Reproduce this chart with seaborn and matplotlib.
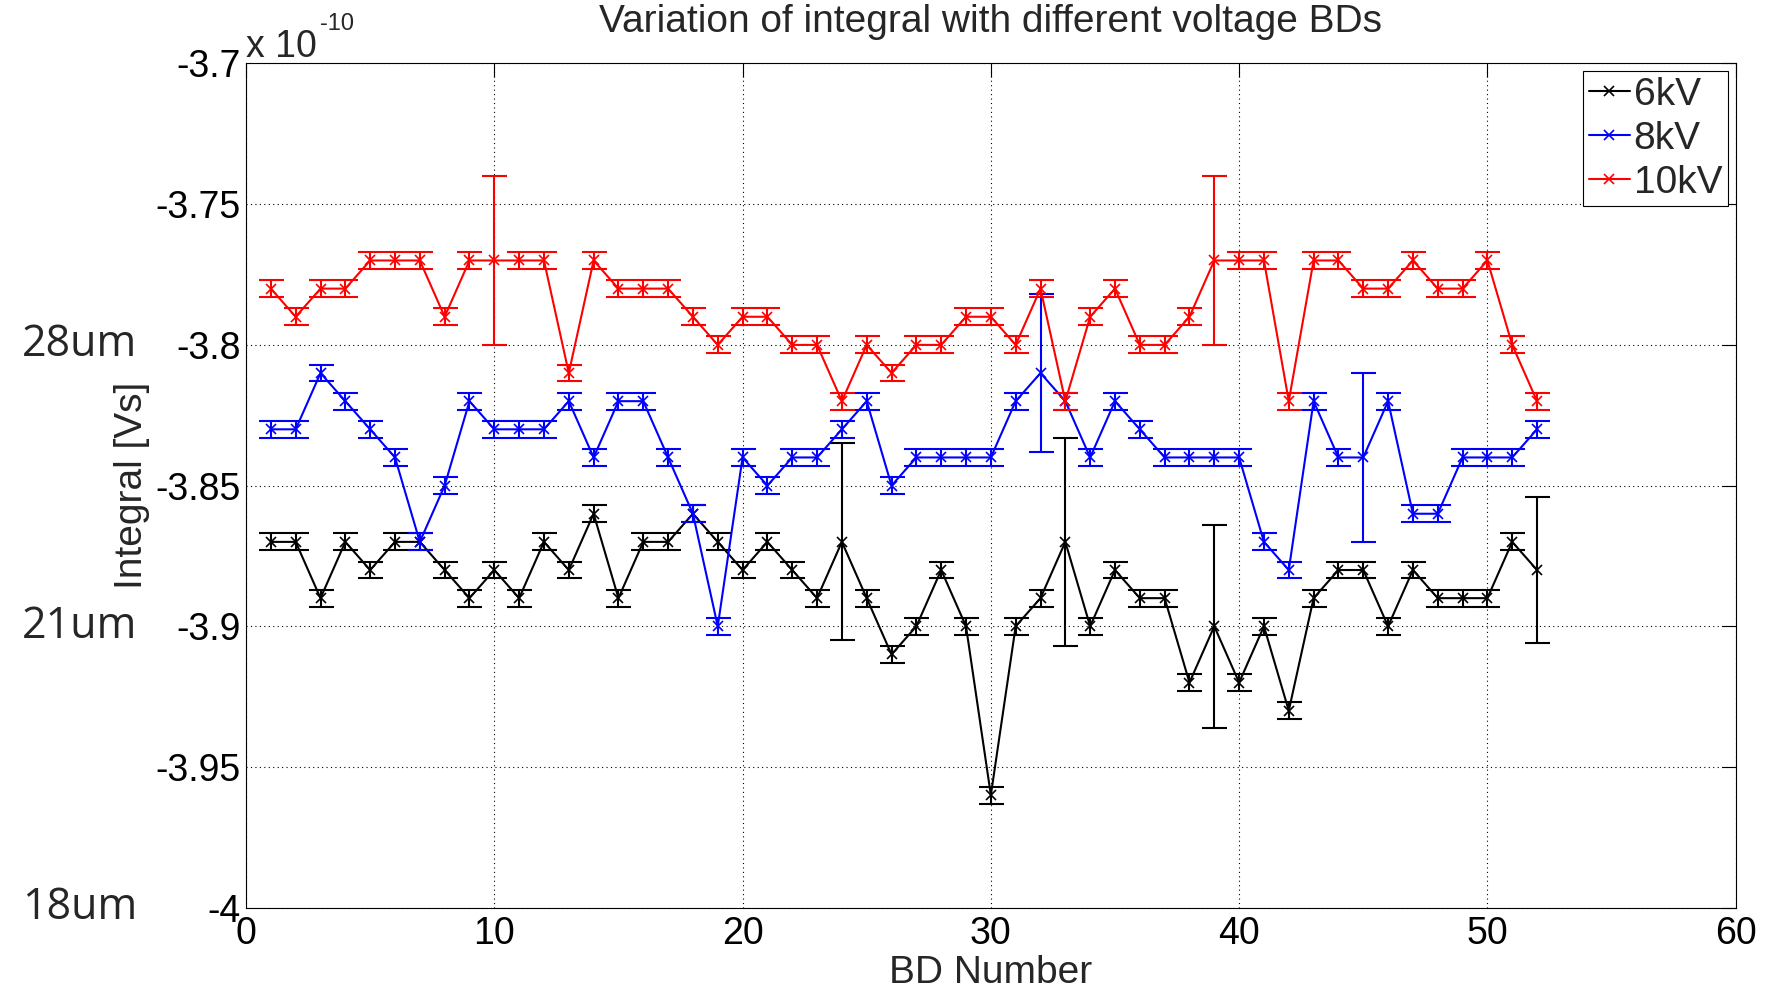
import numpy as np
import pandas as pd
import seaborn as sns
import matplotlib.pyplot as plt
from matplotlib.ticker import MultipleLocator, FuncFormatter
from matplotlib.transforms import blended_transform_factory

# integral values in units of 1e-10 Vs, BD number 1..52
bd = list(range(1, 53))

v6kv = [-3.87, -3.87, -3.89, -3.87, -3.88, -3.87, -3.87, -3.88, -3.89, -3.88,
        -3.89, -3.87, -3.88, -3.86, -3.89, -3.87, -3.87, -3.86, -3.87, -3.88,
        -3.87, -3.88, -3.89, -3.87, -3.89, -3.91, -3.90, -3.88, -3.90, -3.96,
        -3.90, -3.89, -3.87, -3.90, -3.88, -3.89, -3.89, -3.92, -3.90, -3.92,
        -3.90, -3.93, -3.89, -3.88, -3.88, -3.90, -3.88, -3.89, -3.89, -3.89,
        -3.87, -3.88]
v8kv = [-3.83, -3.83, -3.81, -3.82, -3.83, -3.84, -3.87, -3.85, -3.82, -3.83,
        -3.83, -3.83, -3.82, -3.84, -3.82, -3.82, -3.84, -3.86, -3.90, -3.84,
        -3.85, -3.84, -3.84, -3.83, -3.82, -3.85, -3.84, -3.84, -3.84, -3.84,
        -3.82, -3.81, -3.82, -3.84, -3.82, -3.83, -3.84, -3.84, -3.84, -3.84,
        -3.87, -3.88, -3.82, -3.84, -3.84, -3.82, -3.86, -3.86, -3.84, -3.84,
        -3.84, -3.83]
v10kv = [-3.78, -3.79, -3.78, -3.78, -3.77, -3.77, -3.77, -3.79, -3.77, -3.77,
         -3.77, -3.77, -3.81, -3.77, -3.78, -3.78, -3.78, -3.79, -3.80, -3.79,
         -3.79, -3.80, -3.80, -3.82, -3.80, -3.81, -3.80, -3.80, -3.79, -3.79,
         -3.80, -3.78, -3.82, -3.79, -3.78, -3.80, -3.80, -3.79, -3.77, -3.77,
         -3.77, -3.82, -3.77, -3.77, -3.78, -3.78, -3.77, -3.78, -3.78, -3.77,
         -3.80, -3.82]

e6kv = [0.003, 0.003, 0.003, 0.003, 0.003, 0.003, 0.003, 0.003, 0.003, 0.003,
        0.003, 0.003, 0.003, 0.003, 0.003, 0.003, 0.003, 0.003, 0.003, 0.003,
        0.003, 0.003, 0.003, 0.035, 0.003, 0.003, 0.003, 0.003, 0.003, 0.003,
        0.003, 0.003, 0.037, 0.003, 0.003, 0.003, 0.003, 0.003, 0.036, 0.003,
        0.003, 0.003, 0.003, 0.003, 0.003, 0.003, 0.003, 0.003, 0.003, 0.003,
        0.003, 0.026]
e8kv = [0.003, 0.003, 0.003, 0.003, 0.003, 0.003, 0.003, 0.003, 0.003, 0.003,
        0.003, 0.003, 0.003, 0.003, 0.003, 0.003, 0.003, 0.003, 0.003, 0.003,
        0.003, 0.003, 0.003, 0.003, 0.003, 0.003, 0.003, 0.003, 0.003, 0.003,
        0.003, 0.028, 0.003, 0.003, 0.003, 0.003, 0.003, 0.003, 0.003, 0.003,
        0.003, 0.003, 0.003, 0.003, 0.030, 0.003, 0.003, 0.003, 0.003, 0.003,
        0.003, 0.003]
e10kv = [0.003, 0.003, 0.003, 0.003, 0.003, 0.003, 0.003, 0.003, 0.003, 0.030,
         0.003, 0.003, 0.003, 0.003, 0.003, 0.003, 0.003, 0.003, 0.003, 0.003,
         0.003, 0.003, 0.003, 0.003, 0.003, 0.003, 0.003, 0.003, 0.003, 0.003,
         0.003, 0.003, 0.003, 0.003, 0.003, 0.003, 0.003, 0.003, 0.030, 0.003,
         0.003, 0.003, 0.003, 0.003, 0.003, 0.003, 0.003, 0.003, 0.003, 0.003,
         0.003, 0.003]

labels = ['6kV', '8kV', '10kV']
gap_labels = ['28um', '21um', '18um']
gap_levels = [-3.8, -3.9, -4.0]

df = pd.DataFrame({
    'bd': bd * 3,
    'integral': v6kv + v8kv + v10kv,
    'err': e6kv + e8kv + e10kv,
    'voltage': [labels[0]] * 52 + [labels[1]] * 52 + [labels[2]] * 52,
})

sns.set_style('white')
plt.rcParams['font.family'] = ['Liberation Sans', 'DejaVu Sans']
plt.rcParams['axes.unicode_minus'] = False

colors = {'6kV': 'black', '8kV': 'blue', '10kV': 'red'}

fig = plt.figure(figsize=(17.7, 9.89), dpi=100)
ax = fig.add_axes([0.139, 0.0822, 0.8416, 0.8536])

for name in labels:
    sub = df[df['voltage'] == name]
    ax.errorbar(sub['bd'], sub['integral'], yerr=sub['err'], fmt='none',
                ecolor=colors[name], elinewidth=1.5, capsize=9, capthick=1.5)
    sns.lineplot(data=sub, x='bd', y='integral', color=colors[name], marker='x',
                 markersize=7, markeredgewidth=1.2, markeredgecolor=colors[name],
                 markerfacecolor=colors[name], linewidth=1.5,
                 label=name, ax=ax)

ax.set_xlim(0, 60)
ax.set_ylim(-4.0, -3.7)
ax.xaxis.set_major_locator(MultipleLocator(10))
ax.yaxis.set_major_locator(MultipleLocator(0.05))
ax.yaxis.set_major_formatter(FuncFormatter(lambda v, p: f'{v:g}'))
ax.tick_params(direction='in', length=10, width=0.8, top=True, right=True,
               labelsize=27, colors='black')
ax.tick_params(axis='x', pad=6)
ax.tick_params(axis='y', pad=4)
ax.grid(True, color='black', linestyle=(0, (1, 3)), linewidth=0.8)
for s in ax.spines.values():
    s.set_color('black')
    s.set_linewidth(0.8)

ax.set_title('Variation of integral with different voltage BDs', fontsize=28, pad=23)
ax.set_xlabel('BD Number', fontsize=28, labelpad=2)
ax.set_ylabel('Integral [Vs]', fontsize=28, labelpad=4)

leg = ax.legend(loc='upper right', fontsize=28, frameon=True, fancybox=False,
                edgecolor='black', framealpha=1, borderaxespad=0.2,
                handlelength=1.05, handletextpad=0.1, labelspacing=0.2,
                borderpad=0.15, numpoints=1)
leg.get_frame().set_linewidth(0.8)

# exponent text like the MATLAB axis
fig.text(246 / 1770, 1 - 57 / 989, 'x 10', fontsize=27, ha='left', va='baseline')
fig.text(320 / 1770, 1 - 30 / 989, '-10', fontsize=17, ha='left', va='baseline')

trans = blended_transform_factory(fig.transFigure, ax.transData)
for lab, lev in zip(gap_labels, gap_levels):
    ax.text(80 / 1770, lev, lab, transform=trans, fontsize=31, ha='center',
            va='center', family=['Open Sans', 'DejaVu Sans'], clip_on=False)

fig.savefig('out.png', dpi=100)
